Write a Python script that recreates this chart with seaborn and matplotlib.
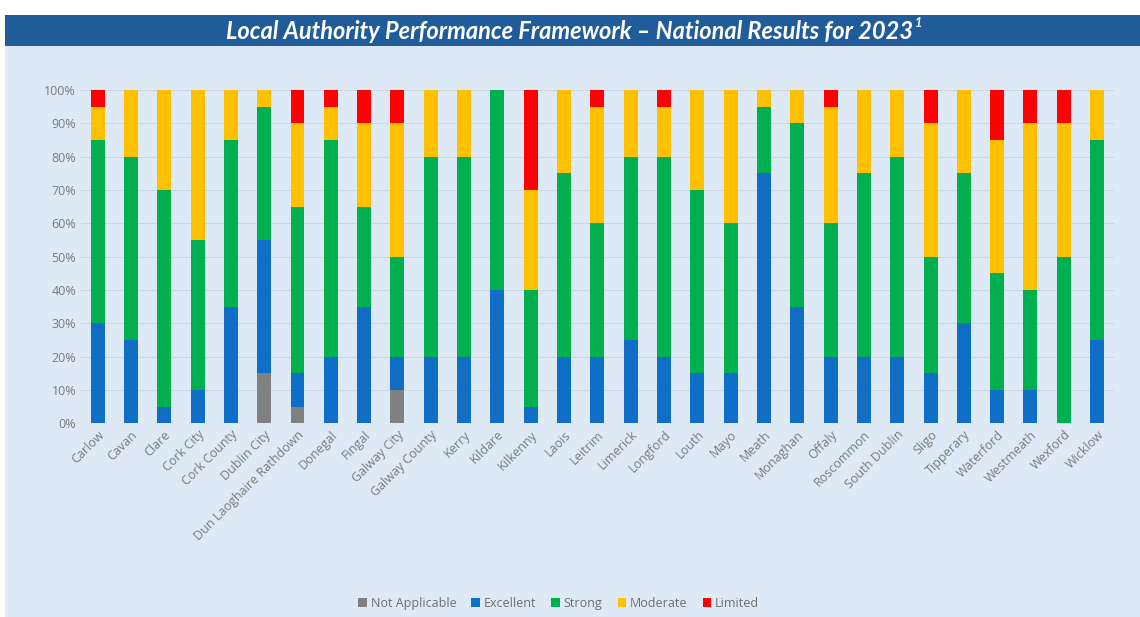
import numpy as np
import pandas as pd
import seaborn as sns
import matplotlib.pyplot as plt
from matplotlib.patches import Rectangle
from matplotlib.ticker import PercentFormatter

# Données (part de chaque niveau, en %)
authorities = ["Carlow", "Cavan", "Clare", "Cork City", "Cork County", "Dublin City",
               "Dun Laoghaire Rathdown", "Donegal", "Fingal", "Galway City", "Galway County",
               "Kerry", "Kildare", "Kilkenny", "Laois", "Leitrim", "Limerick", "Longford",
               "Louth", "Mayo", "Meath", "Monaghan", "Offaly", "Roscommon", "South Dublin",
               "Sligo", "Tipperary", "Waterford", "Westmeath", "Wexford", "Wicklow"]
not_applicable = [0, 0, 0, 0, 0, 15, 5, 0, 0, 10, 0, 0, 0, 0, 0, 0, 0, 0, 0, 0, 0, 0, 0, 0, 0, 0, 0, 0, 0, 0, 0]
excellent = [30, 25, 5, 10, 35, 40, 10, 20, 35, 10, 20, 20, 40, 5, 20, 20, 25, 20, 15, 15, 75, 35, 20, 20, 20, 15, 30, 10, 10, 0, 25]
strong = [55, 55, 65, 45, 50, 40, 50, 65, 30, 30, 60, 60, 60, 35, 55, 40, 55, 60, 55, 45, 20, 55, 40, 55, 60, 35, 45, 35, 30, 50, 60]
moderate = [10, 20, 30, 45, 15, 5, 25, 10, 25, 40, 20, 20, 0, 30, 25, 35, 20, 15, 30, 40, 5, 10, 35, 25, 20, 40, 25, 40, 50, 40, 15]
limited = [5, 0, 0, 0, 0, 0, 10, 5, 10, 10, 0, 0, 0, 30, 0, 5, 0, 5, 0, 0, 0, 0, 5, 0, 0, 10, 0, 15, 10, 10, 0]

levels = ["Not Applicable", "Excellent", "Strong", "Moderate", "Limited"]
colors = ["#808080", "#0F6EC6", "#00B050", "#FFC000", "#FF0000"]

df = pd.DataFrame({"authority": authorities, "Not Applicable": not_applicable,
                   "Excellent": excellent, "Strong": strong,
                   "Moderate": moderate, "Limited": limited})

sns.set_style("white")
plt.rcParams['font.family'] = ['Open Sans', 'DejaVu Sans']

fig = plt.figure(figsize=(11.4, 6.17), dpi=100, facecolor="white")
# fond bleu clair + bandeau de titre
fig.patches.append(Rectangle((0.004, 0), 0.996, 0.925, transform=fig.transFigure,
                             facecolor="#DDEAF6", edgecolor="none", zorder=-2))
fig.patches.append(Rectangle((0.004, 0.925), 0.996, 0.05, transform=fig.transFigure,
                             facecolor="#1F5C99", edgecolor="none", zorder=-1))
title = fig.text(0.5, 0.949, "Local Authority Performance Framework – National Results for 2023",
                 ha="center", va="center", color="white", fontsize=17, fontweight="bold",
                 fontstyle="italic", family=["Lato", "DejaVu Sans"])
# exposant "1" collé au titre
fig.canvas.draw()
bb = title.get_window_extent().transformed(fig.transFigure.inverted())
fig.text(bb.x1 + 0.001, 0.962, "1", ha="left", va="center", color="white", fontsize=9,
         fontweight="bold", fontstyle="italic", family=["Lato", "DejaVu Sans"])

ax = fig.add_axes([0.071, 0.314, 0.906, 0.54])
ax.set_facecolor("none")

bottom = np.zeros(len(df))
for lvl, col in zip(levels, colors):
    sns.barplot(data=df, x="authority", y=lvl, color=col, width=0.42,
                bottom=bottom / 100, ax=ax, label=lvl, linewidth=0,
                estimator=lambda v: v.sum() / 100, errorbar=None, saturation=1)
    bottom += df[lvl].to_numpy()

ax.set_ylim(0, 1.0)
ax.set_xlim(-0.5, len(df) - 0.5)
ax.set_yticks(np.arange(0, 1.01, 0.1))
ax.yaxis.set_major_formatter(PercentFormatter(1.0, decimals=0))
ax.yaxis.grid(True, color="#CAD6E2", linewidth=0.7)
ax.set_axisbelow(True)
for s in ax.spines.values():
    s.set_visible(False)
ax.set_xlabel("")
ax.set_ylabel("")
ax.tick_params(axis="both", length=0, colors="#7A7A7A", labelsize=9)
ax.set_xticks(range(len(df)))
ax.set_xticklabels(authorities, rotation=45, ha="right", rotation_mode="anchor")

handles, labels = ax.get_legend_handles_labels()
if ax.get_legend() is not None:
    ax.get_legend().remove()
fig.legend(handles, labels, loc="center", bbox_to_anchor=(0.49, 0.022), ncol=5,
           frameon=False, fontsize=9, handlelength=0.7, handleheight=0.7,
           handletextpad=0.3, columnspacing=1.2, labelcolor="#6E6E6E")

fig.savefig("out.png", dpi=100, facecolor=fig.get_facecolor())
